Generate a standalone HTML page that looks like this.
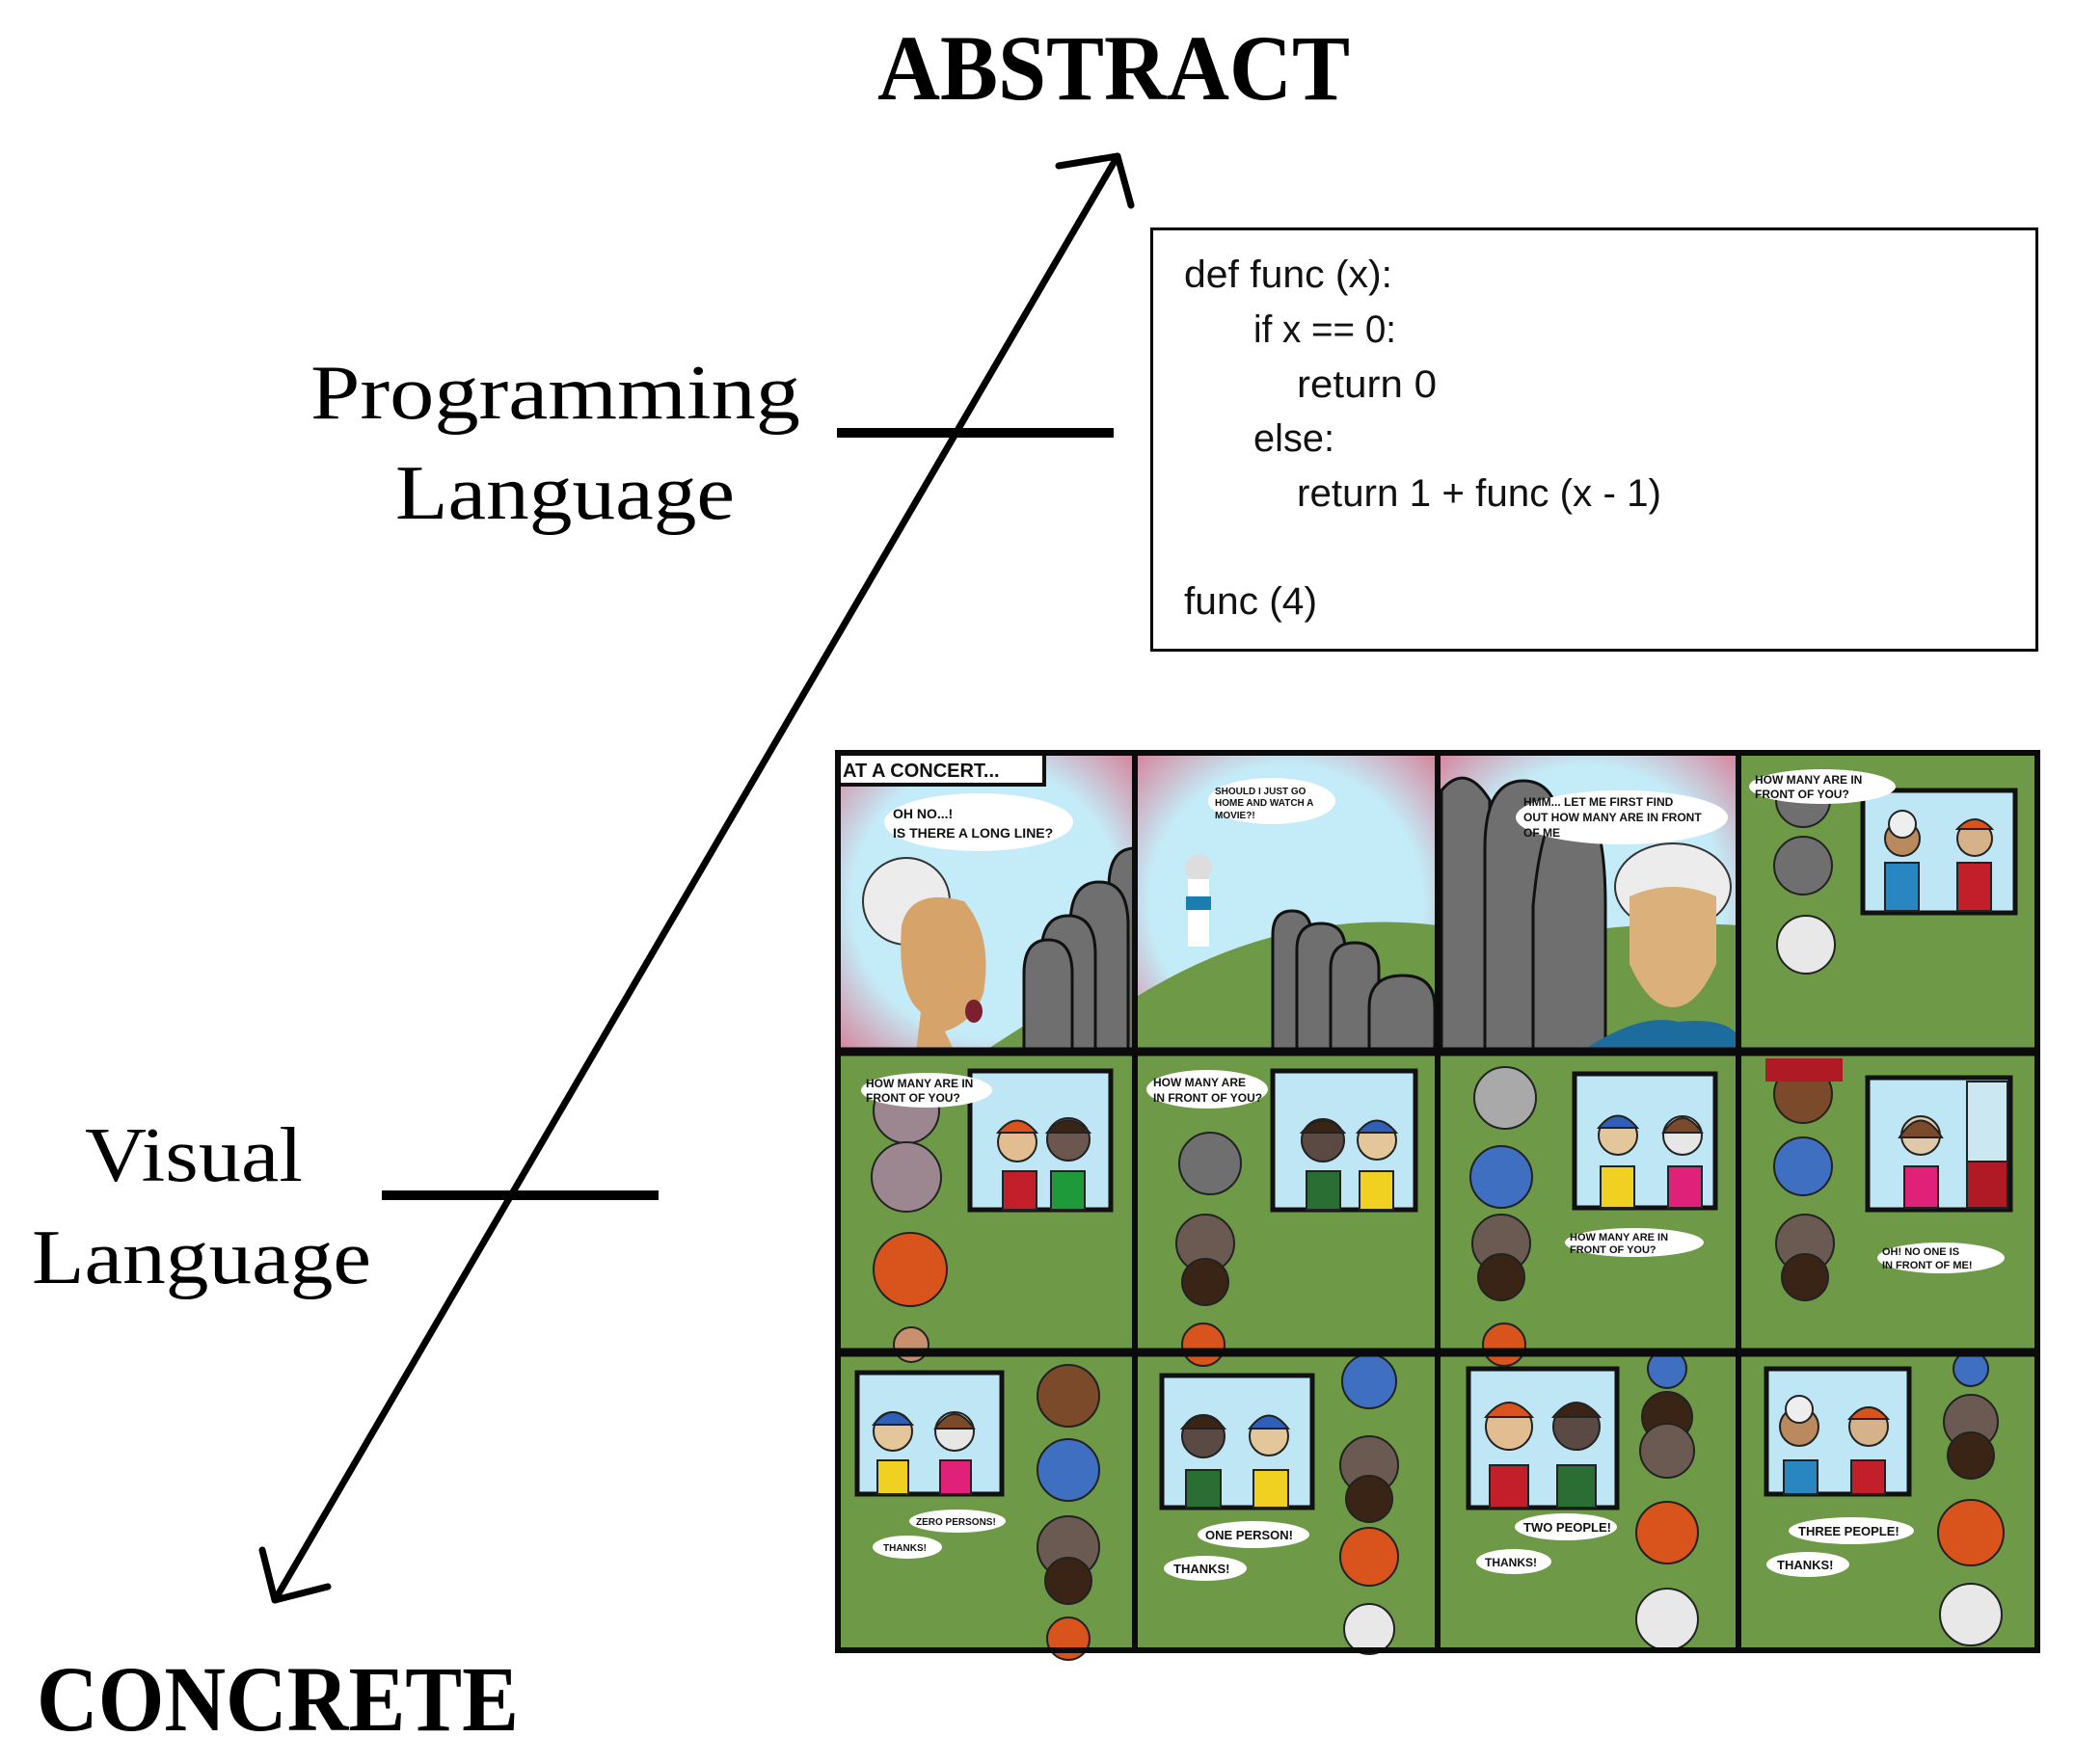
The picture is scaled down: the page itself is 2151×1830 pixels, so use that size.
<!DOCTYPE html>
<html><head><meta charset="utf-8"><style>
html,body{margin:0;padding:0;background:#fff;}
svg{display:block;}
.cm{font-family:"Liberation Sans",sans-serif;font-weight:bold;fill:#111;}
</style></head><body>
<svg width="2151" height="1830" viewBox="0 0 2151 1830" xmlns="http://www.w3.org/2000/svg">
<defs>
<radialGradient id="sky" cx="50%" cy="50%" r="75%">
<stop offset="0.6" stop-color="#c4ecf8"/><stop offset="1" stop-color="#d96d86"/>
</radialGradient>
</defs>
<!-- Titles -->
<text x="910" y="103" font-family="Liberation Serif,serif" font-weight="bold" font-size="96" textLength="490" lengthAdjust="spacingAndGlyphs">ABSTRACT</text>
<text x="38" y="1795" font-family="Liberation Serif,serif" font-weight="bold" font-size="96" textLength="500" lengthAdjust="spacingAndGlyphs">CONCRETE</text>
<text x="322" y="434" font-family="Liberation Serif,serif" font-size="80" textLength="508" lengthAdjust="spacingAndGlyphs">Programming</text>
<text x="410" y="538" font-family="Liberation Serif,serif" font-size="80" textLength="352" lengthAdjust="spacingAndGlyphs">Language</text>
<text x="88" y="1225" font-family="Liberation Serif,serif" font-size="80" textLength="226" lengthAdjust="spacingAndGlyphs">Visual</text>
<text x="33" y="1331" font-family="Liberation Serif,serif" font-size="80" textLength="352" lengthAdjust="spacingAndGlyphs">Language</text>
<!-- Arrow -->
<g stroke="#000" stroke-width="7" fill="none" stroke-linecap="round" stroke-linejoin="round">
<line x1="285" y1="1660" x2="1159" y2="162"/>
<polyline points="1098,172 1159,162 1173,213"/>
<polyline points="272,1608 285,1660 340,1646"/>
</g>
<rect x="868" y="444" width="287" height="10" fill="#000"/>
<rect x="396" y="1235" width="287" height="10" fill="#000"/>
<!-- Code box -->
<rect x="1194.5" y="237.5" width="918" height="437" fill="#fff" stroke="#000" stroke-width="3"/>
<g font-family="Liberation Sans Narrow,Liberation Sans,sans-serif" font-size="40" fill="#111">
<text x="1228" y="298" textLength="216" lengthAdjust="spacingAndGlyphs">def func (x):</text>
<text x="1300" y="355" textLength="148" lengthAdjust="spacingAndGlyphs">if x == 0:</text>
<text x="1345" y="412" textLength="145" lengthAdjust="spacingAndGlyphs">return 0</text>
<text x="1300" y="468" textLength="84" lengthAdjust="spacingAndGlyphs">else:</text>
<text x="1345" y="525" textLength="378" lengthAdjust="spacingAndGlyphs">return 1 + func (x - 1)</text>
<text x="1228" y="637" textLength="138" lengthAdjust="spacingAndGlyphs">func (4)</text>
</g>
<!-- Comic background -->
<rect x="868" y="779" width="1246" height="935" fill="#6e9a48"/>
<!-- Row 1 skies -->
<rect x="868" y="779" width="309" height="312" fill="url(#sky)"/>
<rect x="1177" y="779" width="314" height="312" fill="url(#sky)"/>
<rect x="1491" y="779" width="312" height="312" fill="url(#sky)"/>
<!-- hills -->
<path d="M1020,1091 L1177,990 L1177,1091Z" fill="#6e9a48"/>
<path d="M1177,1035 Q1330,940 1491,960 L1491,1091 L1177,1091Z" fill="#6e9a48"/>
<path d="M1491,1000 Q1650,950 1803,960 L1803,1091 L1491,1091Z" fill="#6e9a48"/>
<!-- panel1: grey people -->
<g fill="#6f6f6f" stroke="#111" stroke-width="3">
<path d="M1150,1091 L1150,920 Q1150,880 1177,880 L1177,1091Z"/>
<path d="M1110,1091 L1110,960 Q1110,915 1140,915 Q1170,915 1170,960 L1170,1091Z"/>
<path d="M1080,1091 L1080,990 Q1080,950 1108,950 Q1136,950 1136,990 L1136,1091Z"/>
<path d="M1062,1091 L1062,1010 Q1062,975 1087,975 Q1112,975 1112,1010 L1112,1091Z"/>
</g>
<!-- panel1 girl -->
<circle cx="940" cy="935" r="45" fill="#ececec" stroke="#333" stroke-width="2"/>
<path d="M935,960 Q945,920 1000,935 Q1030,970 1020,1030 Q1010,1060 980,1070 L990,1091 L950,1091 L955,1050 Q930,1030 935,960Z" fill="#d6a36a"/>
<ellipse cx="1010" cy="1049" rx="9" ry="12" fill="#7a2030"/>
<!-- panel2 -->
<circle cx="1243" cy="900" r="14" fill="#ddd"/>
<rect x="1232" y="912" width="22" height="70" fill="#fff"/>
<rect x="1230" y="930" width="26" height="14" fill="#1a7fb0"/>
<g fill="#6f6f6f" stroke="#111" stroke-width="3">
<path d="M1320,1091 L1320,970 Q1320,945 1340,945 Q1360,945 1360,970 L1360,1091Z"/>
<path d="M1345,1091 L1345,985 Q1345,958 1370,958 Q1395,958 1395,985 L1395,1091Z"/>
<path d="M1380,1091 L1380,1005 Q1380,978 1405,978 Q1430,978 1430,1005 L1430,1091Z"/>
<path d="M1420,1091 L1420,1045 Q1420,1012 1455,1012 Q1488,1012 1488,1045 L1488,1091Z"/>
</g>
<!-- panel3 -->
<g fill="#6f6f6f" stroke="#111" stroke-width="3">
<path d="M1495,1091 L1495,820 Q1520,790 1545,830 L1545,1091Z"/>
<path d="M1540,1091 L1540,880 Q1540,810 1580,810 Q1620,810 1620,880 L1620,1091Z"/>
<path d="M1590,1091 L1590,940 Q1600,830 1630,830 Q1665,830 1665,940 L1665,1091Z"/>
</g>
<ellipse cx="1735" cy="920" rx="60" ry="45" fill="#ececec" stroke="#333" stroke-width="2"/>
<path d="M1690,930 Q1735,910 1780,930 L1780,1000 Q1760,1045 1735,1045 Q1710,1045 1690,1000Z" fill="#dbb07a"/>
<path d="M1640,1091 Q1700,1050 1740,1060 Q1790,1055 1803,1075 L1803,1091Z" fill="#1d6c9e"/>
<!-- windows -->
<g fill="#bfe6f5" stroke="#111" stroke-width="5">
<rect x="1932" y="820" width="158" height="127"/>
<rect x="1006" y="1111" width="146" height="144"/>
<rect x="1320" y="1111" width="148" height="144"/>
<rect x="1633" y="1114" width="146" height="139"/>
<rect x="1937" y="1118" width="148" height="137"/>
<rect x="889" y="1424" width="150" height="126"/>
<rect x="1205" y="1427" width="156" height="137"/>
<rect x="1523" y="1420" width="154" height="144"/>
<rect x="1832" y="1420" width="148" height="130"/>
</g>
<!-- characters in windows: head circles + shirts -->
<g stroke="#222" stroke-width="2">
<!-- p4 row1 -->
<rect x="1955" y="895" width="35" height="50" fill="#2a86c0"/><circle cx="1973" cy="870" r="18" fill="#b98a5e"/><circle cx="1973" cy="855" r="14" fill="#eee"/>
<rect x="2030" y="895" width="35" height="50" fill="#c21f2a"/><circle cx="2048" cy="870" r="18" fill="#d6b28a"/><path d="M2030,860 Q2048,840 2066,860Z" fill="#d9541c"/>
<!-- r2p1 -->
<rect x="1040" y="1215" width="35" height="40" fill="#c21f2a"/><circle cx="1055" cy="1185" r="20" fill="#e3bd92"/><path d="M1035,1175 Q1055,1150 1075,1175Z" fill="#d9541c"/>
<rect x="1090" y="1215" width="35" height="40" fill="#1f9a3a"/><circle cx="1108" cy="1182" r="22" fill="#6b5650"/><path d="M1086,1175 Q1108,1150 1130,1175Z" fill="#3a2416"/>
<!-- r2p2 -->
<rect x="1355" y="1215" width="35" height="40" fill="#2a6e33"/><circle cx="1372" cy="1183" r="22" fill="#5b4a44"/><path d="M1350,1175 Q1372,1150 1394,1175Z" fill="#3a2416"/>
<rect x="1410" y="1215" width="35" height="40" fill="#f0d020"/><circle cx="1428" cy="1183" r="20" fill="#e3c79a"/><path d="M1408,1175 Q1428,1150 1448,1175Z" fill="#2f5fb7"/>
<!-- r2p3 -->
<rect x="1660" y="1210" width="35" height="43" fill="#f0d020"/><circle cx="1678" cy="1178" r="20" fill="#e3c79a"/><path d="M1658,1170 Q1678,1145 1698,1170Z" fill="#2f5fb7"/>
<rect x="1730" y="1210" width="35" height="43" fill="#e0217a"/><circle cx="1745" cy="1178" r="20" fill="#e7e7e7"/><path d="M1725,1175 Q1745,1145 1765,1175Z" fill="#7a4a2a"/>
<!-- r2p4 -->
<rect x="1975" y="1210" width="35" height="43" fill="#e0217a"/><circle cx="1992" cy="1178" r="20" fill="#e0c9a8"/><path d="M1970,1180 Q1992,1145 2014,1180Z" fill="#7a4a2a"/>
<rect x="2040" y="1122" width="42" height="130" fill="#cbe8f2"/><rect x="2040" y="1205" width="42" height="48" fill="#b01a24"/>
<!-- row3 -->
<rect x="910" y="1515" width="32" height="35" fill="#f0d020"/><circle cx="926" cy="1485" r="20" fill="#e3c79a"/><path d="M906,1478 Q926,1452 946,1478Z" fill="#2f5fb7"/>
<rect x="975" y="1515" width="32" height="35" fill="#e0217a"/><circle cx="990" cy="1485" r="20" fill="#e7e7e7"/><path d="M970,1482 Q990,1452 1010,1482Z" fill="#7a4a2a"/>
<rect x="1230" y="1525" width="36" height="39" fill="#2a6e33"/><circle cx="1248" cy="1490" r="22" fill="#5b4a44"/><path d="M1226,1482 Q1248,1455 1270,1482Z" fill="#3a2416"/>
<rect x="1300" y="1525" width="36" height="39" fill="#f0d020"/><circle cx="1316" cy="1490" r="20" fill="#e3c79a"/><path d="M1296,1482 Q1316,1455 1336,1482Z" fill="#2f5fb7"/>
<rect x="1545" y="1520" width="40" height="44" fill="#c21f2a"/><circle cx="1565" cy="1480" r="24" fill="#e3bd92"/><path d="M1541,1470 Q1565,1440 1589,1470Z" fill="#d9541c"/>
<rect x="1615" y="1520" width="40" height="44" fill="#2a6e33"/><circle cx="1635" cy="1480" r="24" fill="#5b4a44"/><path d="M1611,1470 Q1635,1440 1659,1470Z" fill="#3a2416"/>
<rect x="1850" y="1515" width="35" height="35" fill="#2a86c0"/><circle cx="1866" cy="1480" r="20" fill="#b98a5e"/><circle cx="1866" cy="1462" r="14" fill="#eee"/>
<rect x="1920" y="1515" width="35" height="35" fill="#c21f2a"/><circle cx="1938" cy="1480" r="20" fill="#d6b28a"/><path d="M1918,1472 Q1938,1448 1958,1472Z" fill="#d9541c"/>
</g>
<!-- heads from top (queue) -->
<g stroke="#222" stroke-width="2">
<circle cx="1870" cy="898" r="30" fill="#6f6f6f"/><circle cx="1870" cy="830" r="28" fill="#6f6f6f"/><circle cx="1873" cy="980" r="30" fill="#e8e8e8"/>
<circle cx="940" cy="1152" r="34" fill="#9c8790"/><circle cx="940" cy="1221" r="36" fill="#9c8790"/><circle cx="944" cy="1317" r="38" fill="#d9541c"/><circle cx="945" cy="1395" r="18" fill="#c99070"/>
<circle cx="1255" cy="1207" r="32" fill="#6f6f6f"/><circle cx="1250" cy="1290" r="30" fill="#6a5a52"/><circle cx="1250" cy="1330" r="24" fill="#3a2416"/><circle cx="1248" cy="1395" r="22" fill="#d9541c"/>
<circle cx="1561" cy="1139" r="32" fill="#a9a9a9"/><circle cx="1557" cy="1221" r="32" fill="#3f6fc0"/><circle cx="1557" cy="1290" r="30" fill="#6a5a52"/><circle cx="1557" cy="1325" r="24" fill="#3a2416"/><circle cx="1560" cy="1395" r="22" fill="#d9541c"/>
<circle cx="1870" cy="1135" r="30" fill="#7a4a2a"/><circle cx="1870" cy="1210" r="30" fill="#3f6fc0"/><circle cx="1872" cy="1290" r="30" fill="#6a5a52"/><circle cx="1872" cy="1325" r="24" fill="#3a2416"/>
<circle cx="1108" cy="1448" r="32" fill="#7a4a2a"/><circle cx="1108" cy="1525" r="32" fill="#3f6fc0"/><circle cx="1108" cy="1605" r="32" fill="#6a5a52"/><circle cx="1108" cy="1640" r="24" fill="#3a2416"/><circle cx="1108" cy="1700" r="22" fill="#d9541c"/>
<circle cx="1420" cy="1433" r="28" fill="#3f6fc0"/><circle cx="1420" cy="1520" r="30" fill="#6a5a52"/><circle cx="1420" cy="1555" r="24" fill="#3a2416"/><circle cx="1420" cy="1615" r="30" fill="#d9541c"/><circle cx="1420" cy="1690" r="26" fill="#e8e8e8"/>
<circle cx="1729" cy="1420" r="20" fill="#3f6fc0"/><circle cx="1729" cy="1470" r="26" fill="#3a2416"/><circle cx="1729" cy="1505" r="28" fill="#6a5a52"/><circle cx="1729" cy="1590" r="32" fill="#d9541c"/><circle cx="1729" cy="1680" r="32" fill="#e8e8e8"/>
<circle cx="2044" cy="1420" r="18" fill="#3f6fc0"/><circle cx="2044" cy="1475" r="28" fill="#6a5a52"/><circle cx="2044" cy="1510" r="24" fill="#3a2416"/><circle cx="2044" cy="1590" r="34" fill="#d9541c"/><circle cx="2044" cy="1675" r="32" fill="#e8e8e8"/>
</g>
<rect x="1831" y="1098" width="80" height="24" fill="#b01a24"/>
<!-- speech bubbles -->
<g fill="#fff">
<ellipse cx="1015" cy="853" rx="98" ry="30"/>
<ellipse cx="1319" cy="831" rx="66" ry="24"/>
<ellipse cx="1682" cy="848" rx="110" ry="28"/>
<ellipse cx="1890" cy="816" rx="76" ry="18"/>
<ellipse cx="961" cy="1131" rx="68" ry="18"/>
<ellipse cx="1252" cy="1130" rx="63" ry="20"/>
<ellipse cx="1695" cy="1289" rx="72" ry="15"/>
<ellipse cx="2013" cy="1305" rx="66" ry="16"/>
<ellipse cx="993" cy="1578" rx="50" ry="12"/>
<ellipse cx="941" cy="1605" rx="36" ry="12"/>
<ellipse cx="1300" cy="1592" rx="58" ry="14"/>
<ellipse cx="1250" cy="1627" rx="43" ry="13"/>
<ellipse cx="1624" cy="1584" rx="53" ry="14"/>
<ellipse cx="1570" cy="1620" rx="39" ry="13"/>
<ellipse cx="1920" cy="1588" rx="65" ry="14"/>
<ellipse cx="1875" cy="1623" rx="43" ry="13"/>
</g>
<rect x="868" y="780" width="215" height="34" fill="#fff" stroke="#111" stroke-width="4"/>
<text class="cm" x="874" y="806" font-size="20">AT A CONCERT...</text>
<text class="cm" x="926" y="849" font-size="14">OH NO...!</text>
<text class="cm" x="926" y="869" font-size="14">IS THERE A LONG LINE?</text>
<text class="cm" x="1260" y="824" font-size="10">SHOULD I JUST GO</text>
<text class="cm" x="1260" y="836" font-size="10">HOME AND WATCH A</text>
<text class="cm" x="1260" y="849" font-size="10">MOVIE?!</text>
<text class="cm" x="1580" y="836" font-size="12">HMM... LET ME FIRST FIND</text>
<text class="cm" x="1580" y="852" font-size="12">OUT HOW MANY ARE IN FRONT</text>
<text class="cm" x="1580" y="868" font-size="12">OF ME</text>
<text class="cm" x="1820" y="813" font-size="12">HOW MANY ARE IN</text>
<text class="cm" x="1820" y="828" font-size="12">FRONT OF YOU?</text>
<text class="cm" x="898" y="1128" font-size="12">HOW MANY ARE IN</text>
<text class="cm" x="898" y="1143" font-size="12">FRONT OF YOU?</text>
<text class="cm" x="1196" y="1127" font-size="12">HOW MANY ARE</text>
<text class="cm" x="1196" y="1143" font-size="12">IN FRONT OF YOU?</text>
<text class="cm" x="1628" y="1287" font-size="11">HOW MANY ARE IN</text>
<text class="cm" x="1628" y="1300" font-size="11">FRONT OF YOU?</text>
<text class="cm" x="1952" y="1302" font-size="11">OH! NO ONE IS</text>
<text class="cm" x="1952" y="1316" font-size="11">IN FRONT OF ME!</text>
<text class="cm" x="950" y="1582" font-size="10">ZERO PERSONS!</text>
<text class="cm" x="916" y="1609" font-size="10">THANKS!</text>
<text class="cm" x="1250" y="1597" font-size="13">ONE PERSON!</text>
<text class="cm" x="1217" y="1632" font-size="13">THANKS!</text>
<text class="cm" x="1580" y="1589" font-size="13">TWO PEOPLE!</text>
<text class="cm" x="1540" y="1625" font-size="12">THANKS!</text>
<text class="cm" x="1865" y="1593" font-size="13">THREE PEOPLE!</text>
<text class="cm" x="1843" y="1628" font-size="13">THANKS!</text>
<!-- panel borders -->
<g stroke="#0b0b0b" stroke-width="6" fill="none">
<rect x="869" y="781" width="1244" height="931"/>
<line x1="1177" y1="779" x2="1177" y2="1714"/>
<line x1="1491" y1="779" x2="1491" y2="1714"/>
<line x1="1803" y1="779" x2="1803" y2="1714"/>
<line x1="868" y1="1091" x2="2114" y2="1091" stroke-width="9"/>
<line x1="868" y1="1403" x2="2114" y2="1403" stroke-width="9"/>
</g>
</svg>
</body></html>
